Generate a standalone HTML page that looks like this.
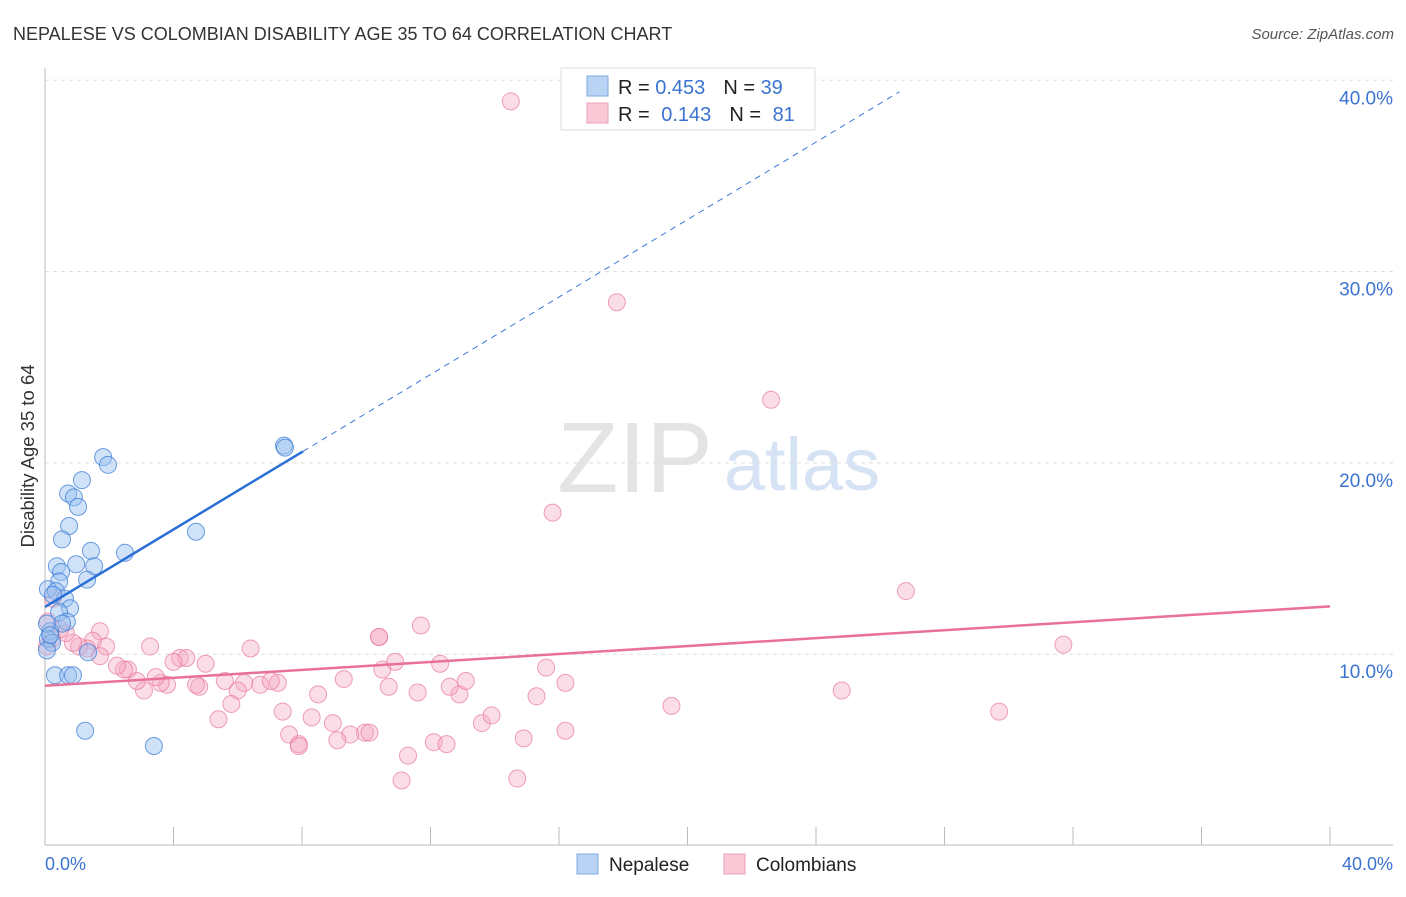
<!DOCTYPE html>
<html><head><meta charset="utf-8">
<style>
html,body{margin:0;padding:0;background:#fff;}
body{width:1406px;height:892px;overflow:hidden;font-family:"Liberation Sans",sans-serif;}
svg text{font-family:"Liberation Sans",sans-serif;}
</style></head>
<body>
<svg id="chart" width="1406" height="892" xmlns="http://www.w3.org/2000/svg">
<text x="13" y="40" font-size="18" fill="#333">NEPALESE VS COLOMBIAN DISABILITY AGE 35 TO 64 CORRELATION CHART</text>
<text x="1394" y="39" font-size="15" fill="#555" text-anchor="end" font-style="italic">Source: ZipAtlas.com</text>
<text transform="translate(34,456) rotate(-90)" font-size="18.5" fill="#333" text-anchor="middle">Disability Age 35 to 64</text>
<g>
<text x="635" y="492" font-size="100" fill="#e4e4e4" text-anchor="middle" font-family="Liberation Serif, serif">ZIP</text>
<text x="802" y="490" font-size="74" fill="#d6e3f5" text-anchor="middle">atlas</text>
</g>
<g id="grid"></g>
<g id="axes"></g>
<g id="marks"></g>
<g>
<rect x="561" y="68" width="254" height="62" fill="#fff" stroke="#ddd"/>
<rect x="587" y="76" width="21" height="20" fill="#b9d3f5" stroke="#7fa8e0"/>
<rect x="587" y="103" width="21" height="20" fill="#f9c9d7" stroke="#eba0b7"/>
<text x="618" y="94" font-size="20" fill="#222">R = <tspan fill="#3b73d1">0.453</tspan><tspan dx="18">N = </tspan><tspan fill="#3b73d1">39</tspan></text>
<text x="618" y="121" font-size="20" fill="#222">R = <tspan dx="6" fill="#3b73d1">0.143</tspan><tspan dx="18">N = </tspan><tspan dx="6" fill="#3b73d1">81</tspan></text>
</g>
<g>
<rect x="577" y="854" width="21" height="20" fill="#b9d3f5" stroke="#7fa8e0"/>
<text x="609" y="871" font-size="19" fill="#222">Nepalese</text>
<rect x="724" y="854" width="21" height="20" fill="#f9c9d7" stroke="#eba0b7"/>
<text x="756" y="871" font-size="19" fill="#222">Colombians</text>
</g>
</svg>
<script>
const yTicks=[10,20,30,40];
const yTickLabels=["10.0%","20.0%","30.0%","40.0%"];
const xTickCount=10;
const nepX=[7.44,7.47,1.81,1.96,1.15,0.72,0.9,1.03,0.75,4.7,0.53,1.43,2.49,0.97,0.37,1.53,0.5,1.31,0.44,0.09,0.34,0.62,0.78,0.44,0.68,0.53,0.16,0.09,0.22,0.06,1.34,0.31,0.72,0.87,1.25,3.39,0.06,0.16,0.25];
const nepY=[20.9,20.8,20.3,19.9,19.1,18.4,18.2,17.7,16.7,16.4,16.0,15.4,15.3,14.7,14.6,14.6,14.3,13.9,13.8,13.4,13.3,12.9,12.4,12.2,11.7,11.6,11.2,10.8,10.6,10.2,10.1,8.9,8.9,8.9,6.0,5.2,11.6,11.0,13.1];
const colX=[14.5,17.8,22.6,15.8,26.8,31.7,24.8,29.7,19.5,16.2,15.6,14.7,15.3,14.9,11.7,10.4,10.4,12.3,10.9,10.5,10.7,11.6,12.9,13.1,12.6,12.1,12.5,13.6,13.9,11.3,11.1,9.3,8.5,8.96,9.96,10.1,9.5,9.1,8.3,7.9,7.6,7.9,7.25,7.4,6.4,6.2,6.0,5.8,5.4,5.6,5.0,4.8,4.7,4.2,4.4,4.0,3.8,3.6,3.45,3.27,3.08,2.86,2.58,2.46,2.24,1.9,1.71,1.49,1.31,1.06,0.87,0.65,0.47,0.22,0.06,0.25,0.09,6.7,7.03,16.2,1.71];
const colY=[38.9,28.4,23.3,17.4,13.3,10.5,8.1,7.0,7.3,8.5,9.3,3.5,7.8,5.6,11.5,10.9,10.9,9.5,9.6,9.2,8.3,8.0,7.9,8.6,8.3,5.4,5.3,6.4,6.8,4.7,3.4,8.7,7.9,6.4,5.9,5.9,5.8,5.5,6.7,5.3,5.8,5.2,8.5,7.0,10.3,8.5,8.1,7.4,6.6,8.6,9.5,8.3,8.4,9.8,9.8,9.6,8.4,8.5,8.8,10.4,8.1,8.6,9.2,9.2,9.4,10.4,11.2,10.7,10.3,10.4,10.6,11.1,11.3,10.8,10.4,12.9,11.7,8.4,8.6,6.0,9.9];
const nepTrend=[0,12.47,8.03,20.6];
const nepSolidEnd=8.03;
const nepDashEnd=26.6;
const colTrend=[0,8.35,40,12.5];
const NS='http://www.w3.org/2000/svg';
const X0=45,X1=1330,YB=845.5,PX=19.13;
function sx(v){return X0+(X1-X0)*v/40;}
function sy(v){return YB-v*PX;}
function el(tag,attrs,parent){const e=document.createElementNS(NS,tag);for(const k in attrs)e.setAttribute(k,attrs[k]);parent.appendChild(e);return e;}
const grid=document.getElementById('grid'),axes=document.getElementById('axes'),marks=document.getElementById('marks');
yTicks.forEach((t,i)=>{
 const g=el('line',{x1:X0,x2:1393,y1:sy(t),y2:sy(t),stroke:'#ddd','stroke-dasharray':'4,4'},grid);
 
 
 const tx=el('text',{x:1393,y:sy(t)+24,'font-size':19,fill:'#3b73d1','text-anchor':'end'},axes);
 tx.textContent=yTickLabels[i];
 
 
});
let a=el('line',{x1:X0,x2:X0,y1:68,y2:845,stroke:'#bbb'},axes);


a=el('line',{x1:X0,x2:1393,y1:845,y2:845,stroke:'#bbb'},axes);


for(let i=1;i<=xTickCount;i++){
 const t=el('line',{x1:sx(i*4),x2:sx(i*4),y1:827,y2:845,stroke:'#bbb'},axes);
 
 
}
let t=el('text',{x:45,y:870,'font-size':18,fill:'#3b73d1'},axes);t.textContent='0.0%';


t=el('text',{x:1393,y:870,'font-size':18,fill:'#3b73d1','text-anchor':'end'},axes);t.textContent='40.0%';


colX.forEach((x,i)=>{
 const c=el('circle',{cx:sx(x),cy:sy(colY[i]),r:8.5,fill:'rgba(246,170,195,0.4)',stroke:'rgba(232,120,158,0.7)','stroke-width':1},marks);
 
 
});
nepX.forEach((x,i)=>{
 const c=el('circle',{cx:sx(x),cy:sy(nepY[i]),r:8.5,fill:'rgba(150,190,240,0.45)',stroke:'rgba(60,125,215,0.75)','stroke-width':1},marks);
 
 
});
function lerp(tr,x){return tr[1]+(tr[3]-tr[1])*(x-tr[0])/(tr[2]-tr[0]);}
let l=el('line',{x1:sx(nepSolidEnd),y1:sy(lerp(nepTrend,nepSolidEnd)),x2:sx(nepDashEnd),y2:sy(lerp(nepTrend,nepDashEnd)),stroke:'#3b78d8','stroke-width':1,'stroke-dasharray':'6,5'},marks);


l=el('line',{x1:sx(0),y1:sy(lerp(nepTrend,0)),x2:sx(nepSolidEnd),y2:sy(lerp(nepTrend,nepSolidEnd)),stroke:'#2a6fd6','stroke-width':2.5},marks);


l=el('line',{x1:sx(0),y1:sy(lerp(colTrend,0)),x2:sx(40),y2:sy(lerp(colTrend,40)),stroke:'#e8709a','stroke-width':2.5},marks);


</script>
</body></html>
